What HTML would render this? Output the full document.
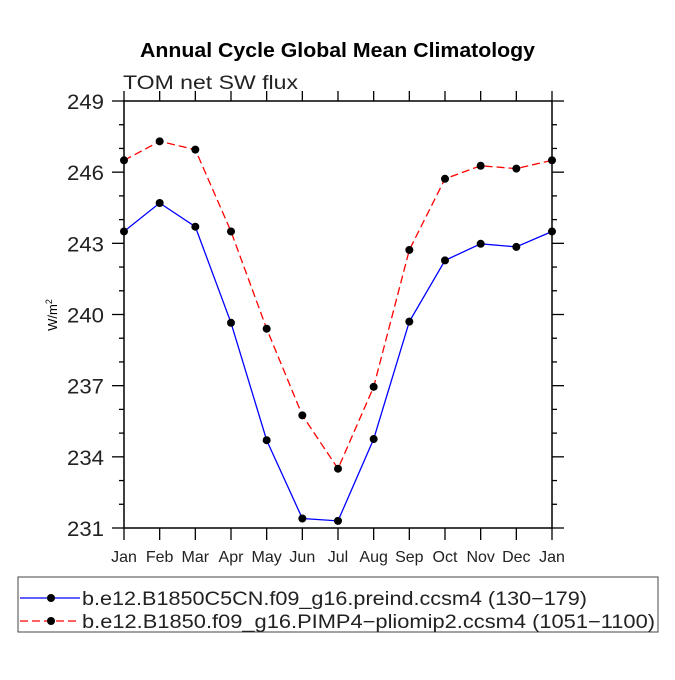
<!DOCTYPE html>
<html><head><meta charset="utf-8"><style>
body{margin:0;background:#fff;width:675px;height:675px;overflow:hidden}
svg{font-family:"Liberation Sans",sans-serif}
</style></head><body>
<svg id="chart" width="675" height="675" xmlns="http://www.w3.org/2000/svg">
<text x="140" y="57" font-size="20" font-weight="bold" textLength="395" lengthAdjust="spacingAndGlyphs">Annual Cycle Global Mean Climatology</text>
<text x="123" y="89" font-size="19" fill="#222" textLength="175" lengthAdjust="spacingAndGlyphs">TOM net SW flux</text>
<text transform="translate(57,315) rotate(-90)" text-anchor="middle" font-size="13">W/m<tspan font-size="9" dy="-5">2</tspan></text>
<rect x="124" y="101" width="428" height="427" fill="none" stroke="#000" stroke-width="1.5"/>
<g id="axes"></g>
<g id="series"></g>
<g>
<rect x="18" y="577" width="640" height="55" fill="none" stroke="#444" stroke-width="1"/>
<g>
<line x1="20" y1="598" x2="80" y2="598" stroke="#0000ff" stroke-width="1.3"/>
<circle cx="51" cy="598" r="4" fill="#000"/>
<text x="82" y="605" font-size="19" fill="#222" textLength="505" lengthAdjust="spacingAndGlyphs">b.e12.B1850C5CN.f09_g16.preind.ccsm4 (130−179)</text>
</g>
<g>
<line x1="20" y1="621" x2="80" y2="621" stroke="#ff0000" stroke-width="1.3" stroke-dasharray="8,4"/>
<circle cx="51" cy="621" r="4" fill="#000"/>
<text x="82" y="628" font-size="19" fill="#222" textLength="573" lengthAdjust="spacingAndGlyphs">b.e12.B1850.f09_g16.PIMP4−pliomip2.ccsm4 (1051−1100)</text>
</g>
</g>
</svg>
<script>
const months=["Jan","Feb","Mar","Apr","May","Jun","Jul","Aug","Sep","Oct","Nov","Dec","Jan"];
const preind=[243.5,244.7,243.7,239.65,234.7,231.4,231.3,234.75,239.7,242.28,242.98,242.85,243.5];
const pliomip=[246.5,247.3,246.95,243.5,239.4,235.75,233.5,236.95,242.72,245.72,246.27,246.15,246.5];
const yTicks=[231,234,237,240,243,246,249];
const NS="http://www.w3.org/2000/svg";
const L=124,R=552,T=101,B=528,ymin=231,ymax=249;
const xs=i=>L+(R-L)*i/12;
const ys=v=>B-(v-ymin)/(ymax-ymin)*(B-T);
function mk(tag,attrs,parent){const e=document.createElementNS(NS,tag);for(const k in attrs)e.setAttribute(k,attrs[k]);parent.appendChild(e);return e;}
const ax=document.getElementById('axes');
for(let v=ymin;v<=ymax;v++){
 const major=(v-ymin)%3===0,len=major?12:5,y=ys(v);
 const t1=mk('line',{x1:L-len,y1:y,x2:L,y2:y,stroke:'#000','stroke-width':1.3},ax);
 
 
 const t2=mk('line',{x1:R,y1:y,x2:R+len,y2:y,stroke:'#000','stroke-width':1.3},ax);
 
 
}
yTicks.forEach(v=>{
 const t=mk('text',{x:104,y:ys(v)+8,'text-anchor':'end','font-size':21,fill:'#222',textLength:37,lengthAdjust:'spacingAndGlyphs'},ax);
 t.textContent=v;
 
 
});
months.forEach((m,i)=>{
 const x=xs(i);
 const a=mk('line',{x1:x,y1:B,x2:x,y2:B+12,stroke:'#000','stroke-width':1.3},ax);
 
 
 const b=mk('line',{x1:x,y1:T-10,x2:x,y2:T,stroke:'#000','stroke-width':1.3},ax);
 
 
 const t=mk('text',{x:x,y:562,'text-anchor':'middle','font-size':16,fill:'#222'},ax);
 t.textContent=m;
 
 
});
const sg=document.getElementById('series');
function series(vals,color,dash,name){
 const pts=vals.map((v,i)=>xs(i)+','+ys(v)).join(' ');
 const pl=mk('polyline',{points:pts,fill:'none',stroke:color,'stroke-width':1.3,'stroke-dasharray':dash},sg);
 
 
 vals.forEach((v,i)=>{
  const c=mk('circle',{cx:xs(i),cy:ys(v),r:4,fill:'#000'},sg);
  
  
 });
}
series(preind,'#0000ff','none','preind');
series(pliomip,'#ff0000','8,4','pliomip2');
</script>
</body></html>
